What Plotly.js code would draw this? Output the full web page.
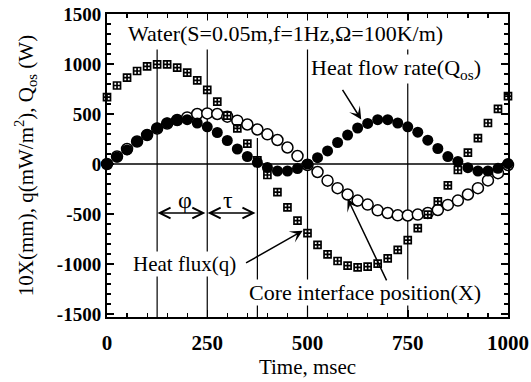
<!DOCTYPE html>
<html>
<head>
<meta charset="utf-8">
<script src="https://cdn.plot.ly/plotly-3.0.1.min.js"></script>
<style>
  html, body { margin: 0; padding: 0; background: #fff; }
  #chart { width: 531px; height: 382px; }
</style>
</head>
<body>
<div id="chart"></div>
<script>
// Sampling instants over one oscillation period (ms)
const timeMs = [0, 25, 50, 75, 100, 125, 150, 175, 200, 225, 250, 275, 300, 325, 350, 375, 400,
  425, 450, 475, 500, 525, 550, 575, 600, 625, 650, 675, 700, 725, 750, 775, 800, 825, 850,
  875, 900, 925, 950, 975, 1000];

// Heat flux q (mW/m^2)
const heatFlux = [668, 785, 863, 930, 977, 997, 997, 964, 913, 836, 742, 624, 483, 356, 204, 37, -110,
  -282, -433, -567, -692, -809, -903, -970, -1017, -1034, -1027, -997, -943, -859, -762, -641, -507,
  -373, -213, -60, 114, 259, 410, 551, 678];

// Heat flow rate Q_os (W)
const heatFlowRate = [0, 70, 141, 225, 292, 359, 410, 440, 443, 410, 372, 315, 235, 150, 75, 15, -35,
  -70, -70, -45, 0, 63, 131, 215, 289, 360, 406, 443, 443, 410, 372, 318, 238, 155, 74,
  25, -37, -70, -70, -43, 5];

// Core interface position, 10X (mm)
const corePosition = [0, 75, 150, 225, 290, 355, 405, 440, 466, 500, 506, 500, 473, 433, 395, 345, 297,
  240, 165, 80, -10, -80, -167, -242, -305, -366, -406, -463, -490, -513, -515, -506, -490,
  -460, -409, -366, -305, -242, -164, -92, -10];

// Axis ticks
const xTickVals = [0, 250, 500, 750, 1000];
const xTickText = ['0', '250', '500', '750', '1000'];
const yTickVals = [-1500, -1000, -500, 0, 500, 1000, 1500];
const yTickText = ['-1500', '-1000', '-500', '0', '500', '1000', '1500'];

// Vertical guide lines marking phase lags (ms) and where each one starts (upper end)
const guideTimes = [125, 250, 375, 500, 750];
const guideTops = [1145, 1145, 260, 1145, 1145];

const serif = 'Liberation Serif, Times New Roman, serif';

const traces = [
  {
    x: timeMs, y: corePosition, type: 'scatter', mode: 'markers', name: 'X',
    marker: { symbol: 'circle', size: 11, color: '#fff', line: { color: '#000', width: 1.5 } },
    cliponaxis: false
  },
  {
    x: timeMs, y: heatFlux, type: 'scatter', mode: 'markers', name: 'q',
    marker: { symbol: 'square-cross-open', size: 7, color: '#000', line: { color: '#000', width: 1.7 } },
    cliponaxis: false
  },
  {
    x: timeMs, y: heatFlowRate, type: 'scatter', mode: 'markers', name: 'Qos',
    marker: { symbol: 'circle', size: 11, color: '#000', line: { color: '#000', width: 0 } },
    cliponaxis: false
  }
];

const shapes = guideTimes.map((t, i) => ({
  type: 'line', xref: 'x', yref: 'y', layer: 'below',
  x0: t, x1: t, y0: -1530, y1: guideTops[i],
  line: { color: '#000', width: 1.2 }
}));

const txt = (text, x, y, size, extra) => Object.assign({
  text: text, x: x, y: y, xref: 'x', yref: 'y', showarrow: false,
  xanchor: 'left', yanchor: 'middle', bgcolor: '#fff', borderpad: 0,
  font: { family: serif, size: size, color: '#000' }
}, extra || {});

const arrow = (x, y, ax, ay, head, side) => ({
  text: '', x: x, y: y, ax: ax, ay: ay, xref: 'x', yref: 'y', axref: 'x', ayref: 'y',
  showarrow: true, arrowhead: head, startarrowhead: head, arrowside: side || 'end',
  arrowsize: 1.4, startarrowsize: 1.4, arrowwidth: 1.5, arrowcolor: '#000', standoff: 0
});

const annotations = [
  txt('Water(S=0.05m,f=1Hz,\u03A9=100K/m)', 50, 1309, 22),
  txt('Heat flow rate(Q<sub>os</sub>)', 507, 950, 22),
  txt('Heat flux(q)', 62, -998, 21),
  txt('Core interface position(X)', 351, -1289, 22),
  txt('\u03C6', 195, -360, 24, { xanchor: 'center', bgcolor: 'rgba(0,0,0,0)' }),
  txt('\u03C4', 301, -360, 24, { xanchor: 'center', bgcolor: 'rgba(0,0,0,0)' }),
  arrow(126, -490, 249, -490, 5, 'end+start'),
  arrow(251, -490, 374, -490, 5, 'end+start'),
  arrow(634, 445, 585, 757, 3),
  arrow(488, -667, 343, -998, 3),
  arrow(600, -346, 699, -1179, 3)
];

const axisCommon = {
  showgrid: false, zeroline: false, showline: true, linecolor: '#000', linewidth: 2,
  mirror: 'ticks', ticks: 'inside', tickcolor: '#000', tickwidth: 1.5, ticklen: 7,
  tickmode: 'array'
};

const layout = {
  width: 531, height: 382,
  paper_bgcolor: '#fff', plot_bgcolor: '#fff',
  margin: { l: 107, r: 23, t: 14, b: 65 },
  showlegend: false,
  font: { family: serif, color: '#000' },
  xaxis: Object.assign({}, axisCommon, {
    range: [0, 1000], tickvals: xTickVals, ticktext: xTickText,
    minor: { dtick: 50, ticklen: 4, tickcolor: '#000', tickwidth: 1.2, ticks: 'inside' },
    tickfont: { family: serif, size: 21, color: '#000', weight: 'bold' },
    ticklabelstandoff: 6,
    title: { text: 'Time, msec', font: { family: serif, size: 21, color: '#000' }, standoff: 4 }
  }),
  yaxis: Object.assign({}, axisCommon, {
    range: [-1530, 1500], tickvals: yTickVals, ticktext: yTickText,
    minor: { dtick: 100, ticklen: 4, tickcolor: '#000', tickwidth: 1.2, ticks: 'inside' },
    tickfont: { family: serif, size: 19, color: '#000', weight: 'bold' },
    title: { text: '10X(mm), q(mW/m<sup>2</sup>), Q<sub>os</sub> (W)', font: { family: serif, size: 21, color: '#000' }, standoff: 18 }
  }),
  shapes: shapes.concat([{
    type: 'line', xref: 'paper', yref: 'y', layer: 'below',
    x0: 0, x1: 1, y0: 0, y1: 0, line: { color: '#000', width: 1.5 }
  }]),
  annotations: annotations
};

Plotly.newPlot('chart', traces, layout, { staticPlot: true, displayModeBar: false });
</script>
</body>
</html>
